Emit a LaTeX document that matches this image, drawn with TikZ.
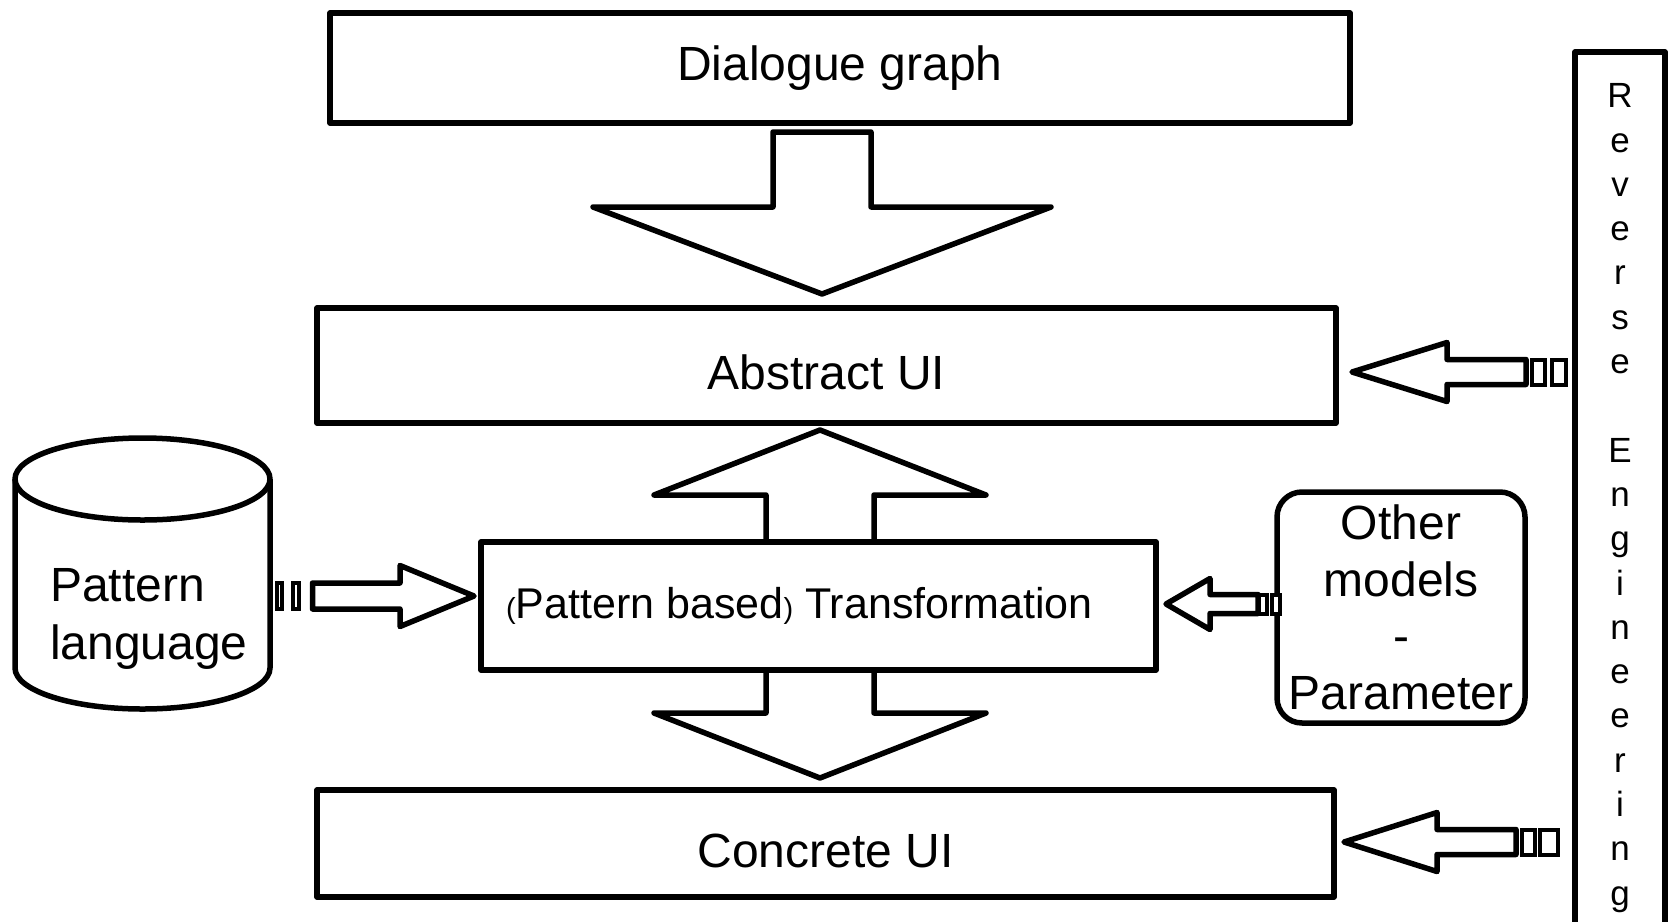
\documentclass[tikz,border=0pt]{standalone}
\usepackage{fontspec}
\setmainfont{Liberation Sans}
\usetikzlibrary{calc}

\begin{document}
\begin{tikzpicture}[x=1pt, y=-1pt,
    blk/.style = {draw, line width=5.5pt, line join=round, fill=white},
    box/.style = {blk, outer sep=0pt, inner sep=0pt, align=center,
                  font=\fontsize{48}{56.5}\selectfont},
    stripe/.style = {draw, line width=4pt, fill=white},
    ]
    \useasboundingbox (0,0) rectangle (1669,921);

    \node[box, minimum width=1020, minimum height=110] (dlg) at (840,68) {Dialogue graph};
    \node[box, minimum width=1019, minimum height=115, text height=49pt] (abs) at (826.5,365.5) {Abstract UI};
    \node[box, minimum width=1017, minimum height=107, text height=49pt] (con) at (825.5,843.5) {Concrete UI};

    \coordinate (tipA) at ($(abs.north)+(-4.5,-14)$);
    \coordinate (tipBu) at ($(abs.south)+(-6.5,7)$);
    \coordinate (tipBd) at ($(con.north)+(-5.5,-12)$);

    \draw[blk] (tipA) -- ++(-229,-87) -- ++(180,0) -- ++(0,-75) -- ++(98,0)
        -- ++(0,75) -- ++(180,0) -- cycle;
    \draw[blk] (tipBu) -- ++(166,65) -- ++(-112,0) -- ++(0,218) -- ++(112,0)
        -- (tipBd) -- ++(-166,-65) -- ++(112,0) -- ++(0,-218) -- ++(-112,0) -- cycle;

    \node[box, minimum width=675, minimum height=128] (trans) at (818.5,606)
        {\fontsize{43}{50}\selectfont{\fontsize{29}{32}\selectfont(}Pattern based{\fontsize{29}{32}\selectfont)} Transformation\rule{38pt}{0pt}};
    \node[box, rounded corners=25, minimum width=248, minimum height=231] (oth) at (1401,607.5)
        {Other\\models\\-\\Parameter};
    \node[box, minimum width=90, minimum height=892, font=\fontsize{35}{44.3}\selectfont] (rev) at (1620,498)
        {R\\e\\v\\e\\r\\s\\e\\\mbox{}\\E\\n\\g\\i\\n\\e\\e\\r\\i\\n\\g};

    \filldraw[blk] (15,479) -- (15,668) arc[start angle=180, end angle=0, x radius=127.5, y radius=41]
        -- (270,479);
    \draw[blk] (142.5,479) ellipse[x radius=127.5, y radius=41];
    \node[inner sep=0pt, anchor=north west, align=left, font=\fontsize{48}{58}\selectfont] (pat) at (50,568)
        {Pattern\\language};

    \coordinate (tipC) at ($(trans.east)+(10,-2)$);
    \coordinate (tipD) at ($(trans.west)+(-7,-10)$);
    \coordinate (tipE) at ($(abs.east)+(16,6.5)$);
    \coordinate (tipF) at ($(con.east)+(10,-1.5)$);

    \draw[blk] (tipD) -- ++(-74,-30.5) -- ++(0,17.5) -- ++(-87.5,0) -- ++(0,26)
        -- ++(87.5,0) -- ++(0,17.5) -- cycle;
    \draw[stripe] ($(tipD)+(-197.5,-13)$) rectangle ++(5.5,26);
    \draw[stripe] ($(tipD)+(-181,-13)$) rectangle ++(5.5,26);

    \draw[blk] (tipC) -- ++(44,-25.5) -- ++(0,16) -- ++(48,0) -- ++(0,19)
        -- ++(-48,0) -- ++(0,16) -- cycle;
    \draw[stripe] ($(tipC)+(93,-9.5)$) rectangle ++(8,19);
    \draw[stripe] ($(tipC)+(106,-9.5)$) rectangle ++(8,19);

    \draw[blk] (tipE) -- ++(95,-29.5) -- ++(0,17) -- ++(79,0) -- ++(0,25)
        -- ++(-79,0) -- ++(0,17) -- cycle;
    \draw[stripe] ($(tipE)+(180,-12.5)$) rectangle ++(13,25);
    \draw[stripe] ($(tipE)+(200,-12.5)$) rectangle ++(14,25);

    \draw[blk] (tipF) -- ++(93,-29.5) -- ++(0,17) -- ++(79,0) -- ++(0,25)
        -- ++(-79,0) -- ++(0,17) -- cycle;
    \draw[stripe] ($(tipF)+(178,-12.5)$) rectangle ++(13,25);
    \draw[stripe] ($(tipF)+(196,-12.5)$) rectangle ++(18,25);
\end{tikzpicture}
\end{document}
